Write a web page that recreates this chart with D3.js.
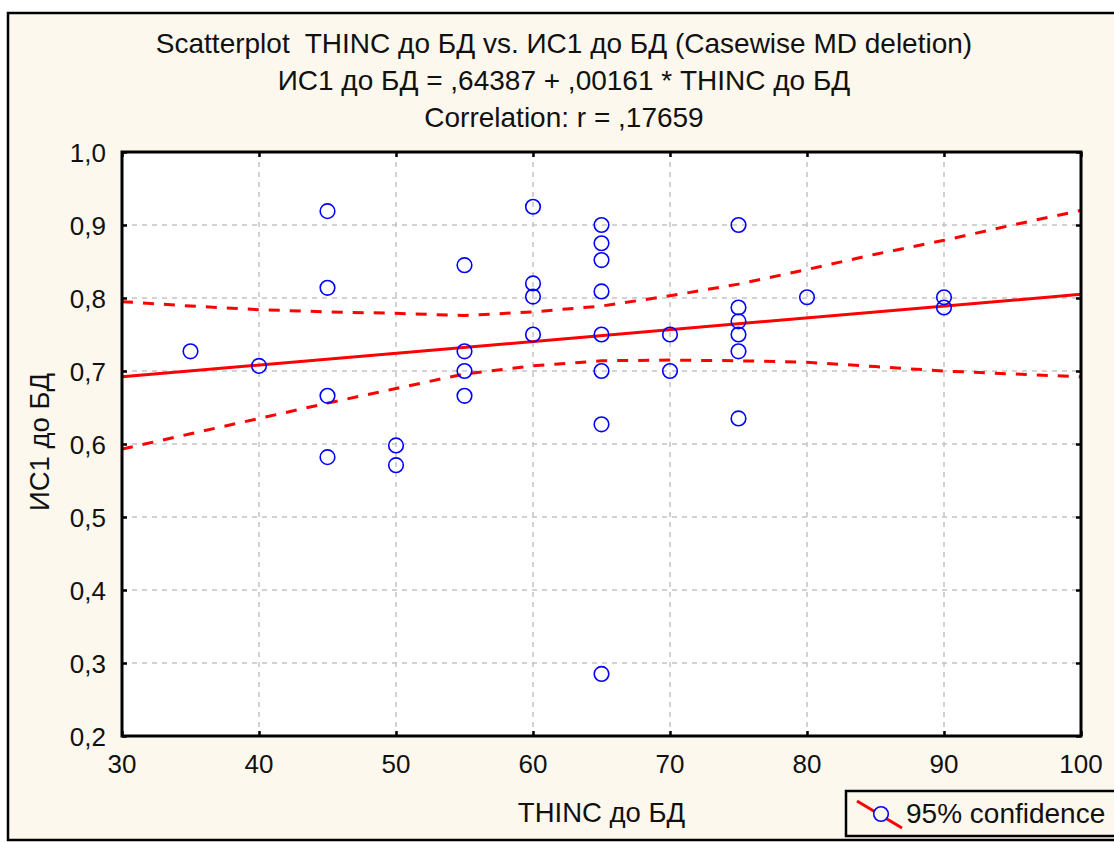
<!DOCTYPE html>
<html>
<head>
<meta charset="utf-8">
<script src="https://cdn.jsdelivr.net/npm/d3@7"></script>
<style>
  html, body { margin: 0; padding: 0; background: #ffffff; }
  svg { display: block; }
  text { font-family: "Liberation Sans", Arial, sans-serif; fill: #111; }
</style>
</head>
<body>
<svg id="chart" width="1114" height="842"></svg>
<script>
// ---- data ----
const titleLines = [
  "Scatterplot\u00a0 THINC до БД vs. ИС1 до БД (Casewise MD deletion)",
  "ИС1 до БД = ,64387 + ,00161 * THINC до БД",
  "Correlation: r = ,17659"
];
const xLabel = "THINC до БД";
const yLabel = "ИС1 до БД";
const legendLabel = "95% confidence";

const xTicks = [30, 40, 50, 60, 70, 80, 90, 100];
const yTicks = [0.2, 0.3, 0.4, 0.5, 0.6, 0.7, 0.8, 0.9, 1.0];

const thincX = [35, 40, 45, 45, 45, 45, 50, 50, 55, 55, 55, 55,
                60, 60, 60, 60, 65, 65, 65, 65, 65, 65, 65, 65,
                70, 70, 75, 75, 75, 75, 75, 75, 80, 90, 90];
const ic1Y   = [0.727, 0.707, 0.919, 0.814, 0.666, 0.582, 0.598, 0.571, 0.845, 0.727, 0.700, 0.666,
                0.925, 0.820, 0.802, 0.750, 0.900, 0.875, 0.852, 0.809, 0.750, 0.700, 0.627, 0.285,
                0.750, 0.700, 0.900, 0.787, 0.768, 0.750, 0.727, 0.635, 0.801, 0.801, 0.787];

const regX = [30, 100];
const regY = [0.692, 0.805];

const bandX     = [30, 35, 40, 45, 50, 55, 60, 65, 70, 75, 80, 85, 90, 95, 100];
const bandUpper = [0.795, 0.789, 0.784, 0.781, 0.779, 0.776, 0.781, 0.789, 0.803, 0.819, 0.839, 0.860, 0.879, 0.900, 0.920];
const bandLower = [0.593, 0.614, 0.635, 0.656, 0.676, 0.696, 0.707, 0.714, 0.715, 0.714, 0.712, 0.706, 0.700, 0.696, 0.692];

// ---- layout ----
const plot = { left: 122, right: 1081, top: 152, bottom: 736 };
const cream = "#fdf8ee";

const svg = d3.select("#chart");

// outer frame
svg.append("rect").attr("x", 8).attr("y", 13).attr("width", 1130).attr("height", 827)
  .attr("fill", cream).attr("stroke", "#000").attr("stroke-width", 2.5);

const x = d3.scaleLinear().domain([30, 100]).range([plot.left, plot.right]);
const y = d3.scaleLinear().domain([0.2, 1.0]).range([plot.bottom, plot.top]);

// plot background
svg.append("rect").attr("x", plot.left).attr("y", plot.top)
  .attr("width", plot.right - plot.left).attr("height", plot.bottom - plot.top)
  .attr("fill", "#fff");

// grid
const grid = svg.append("g").attr("stroke", "#c4c4c4").attr("stroke-width", 1.5)
  .attr("stroke-dasharray", "5,5");
grid.selectAll("line.v").data(xTicks.slice(1, -1)).join("line")
  .attr("class", "v")
  .attr("x1", d => x(d)).attr("x2", d => x(d))
  .attr("y1", plot.top).attr("y2", plot.bottom);
grid.selectAll("line.h").data(yTicks.slice(1, -1)).join("line")
  .attr("class", "h")
  .attr("y1", d => y(d)).attr("y2", d => y(d))
  .attr("x1", plot.left).attr("x2", plot.right);

// clip
svg.append("clipPath").attr("id", "clip").append("rect")
  .attr("x", plot.left).attr("y", plot.top)
  .attr("width", plot.right - plot.left).attr("height", plot.bottom - plot.top);

const g = svg.append("g").attr("clip-path", "url(#clip)");

const line = d3.line().x(d => x(d[0])).y(d => y(d[1]));

// confidence bands
g.append("path").datum(bandX.map((v, i) => [v, bandUpper[i]]))
  .attr("d", line).attr("fill", "none").attr("stroke", "#ff0000")
  .attr("stroke-width", 3).attr("stroke-dasharray", "11,10");
g.append("path").datum(bandX.map((v, i) => [v, bandLower[i]]))
  .attr("d", line).attr("fill", "none").attr("stroke", "#ff0000")
  .attr("stroke-width", 3).attr("stroke-dasharray", "11,10");

// regression line
g.append("path").datum(regX.map((v, i) => [v, regY[i]]))
  .attr("d", line).attr("fill", "none").attr("stroke", "#ff0000").attr("stroke-width", 3);

// points
g.selectAll("circle.pt").data(thincX.map((v, i) => [v, ic1Y[i]])).join("circle")
  .attr("class", "pt")
  .attr("cx", d => x(d[0])).attr("cy", d => y(d[1])).attr("r", 7.3)
  .attr("fill", "none").attr("stroke", "#0000ff").attr("stroke-width", 1.6);

// axes (ticks on all sides, inward)
const tickLen = 5;
const axBottom = d3.axisBottom(x).tickValues(xTicks).tickSize(-tickLen).tickFormat("");
const axTop = d3.axisTop(x).tickValues(xTicks).tickSize(-tickLen).tickFormat("");
const axLeft = d3.axisLeft(y).tickValues(yTicks).tickSize(-tickLen).tickFormat("");
const axRight = d3.axisRight(y).tickValues(yTicks).tickSize(-tickLen).tickFormat("");
[[axBottom, `translate(0,${plot.bottom})`], [axTop, `translate(0,${plot.top})`],
 [axLeft, `translate(${plot.left},0)`], [axRight, `translate(${plot.right},0)`]].forEach(([ax, tr]) => {
  const a = svg.append("g").attr("transform", tr).call(ax);
  a.select(".domain").remove();
  a.selectAll(".tick line").attr("stroke", "#000").attr("stroke-width", 2.5);
});

// plot border
svg.append("rect").attr("x", plot.left).attr("y", plot.top)
  .attr("width", plot.right - plot.left).attr("height", plot.bottom - plot.top)
  .attr("fill", "none").attr("stroke", "#000").attr("stroke-width", 3);

// tick labels
const fmt = d => d3.format(".1f")(d).replace(".", ",");
svg.append("g").selectAll("text").data(xTicks).join("text")
  .attr("x", d => x(d)).attr("y", 773).attr("text-anchor", "middle")
  .attr("font-size", 26).text(d => d);
svg.append("g").selectAll("text").data(yTicks).join("text")
  .attr("x", 106).attr("y", d => y(d) + 9.5).attr("text-anchor", "end")
  .attr("font-size", 26).text(fmt);

// titles
svg.append("g").selectAll("text").data(titleLines).join("text")
  .attr("x", 564).attr("y", (d, i) => 53 + i * 37).attr("text-anchor", "middle")
  .attr("font-size", 28).text(d => d);

// axis labels
svg.append("text").attr("x", (plot.left + plot.right) / 2).attr("y", 822)
  .attr("text-anchor", "middle").attr("font-size", 27.5).text(xLabel);
svg.append("text").attr("transform", `translate(49,${(plot.top + plot.bottom) / 2 - 2}) rotate(-90)`)
  .attr("text-anchor", "middle").attr("font-size", 27.5).text(yLabel);

// legend
const lg = svg.append("g");
lg.append("rect").attr("x", 846).attr("y", 791).attr("width", 300).attr("height", 45)
  .attr("fill", cream).attr("stroke", "#000").attr("stroke-width", 2.5);
lg.append("line").attr("x1", 857).attr("y1", 801).attr("x2", 902).attr("y2", 828)
  .attr("stroke", "#ff0000").attr("stroke-width", 3);
lg.append("circle").attr("cx", 881).attr("cy", 814).attr("r", 7.3)
  .attr("fill", cream).attr("stroke", "#0000ff").attr("stroke-width", 1.6);
lg.append("text").attr("x", 906).attr("y", 823).attr("font-size", 28).text(legendLabel);
</script>
</body>
</html>
